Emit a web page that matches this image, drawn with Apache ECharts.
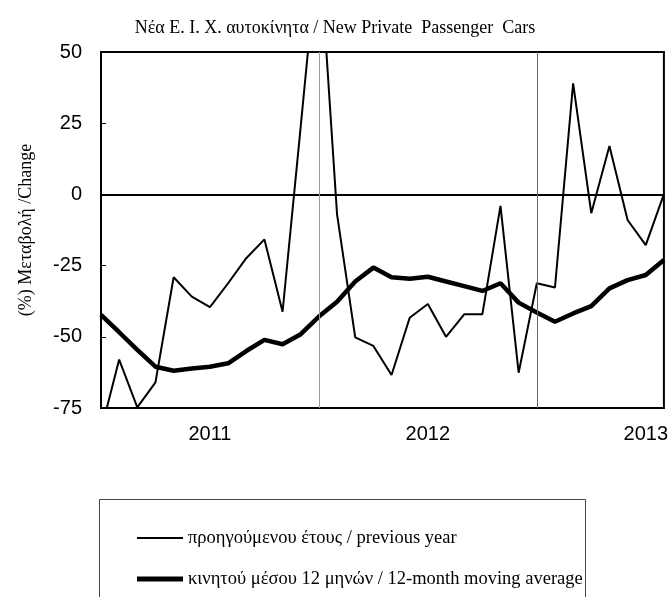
<!DOCTYPE html>
<html>
<head>
<meta charset="utf-8">
<script src="https://cdn.jsdelivr.net/npm/echarts@6/dist/echarts.min.js"></script>
<style>html,body{margin:0;padding:0;background:#fff}#c{width:671px;height:597px}</style>
</head>
<body>
<div id="c"></div>
<script>
// Months Jul 2010 .. Feb 2013
const months = ['2010-07','2010-08','2010-09','2010-10','2010-11','2010-12',
  '2011-01','2011-02','2011-03','2011-04','2011-05','2011-06','2011-07','2011-08','2011-09','2011-10','2011-11','2011-12',
  '2012-01','2012-02','2012-03','2012-04','2012-05','2012-06','2012-07','2012-08','2012-09','2012-10','2012-11','2012-12',
  '2013-01','2013-02'];
// % change vs previous year
const yoyChange = [-83,-58,-74.8,-66,-29.1,-35.9,-39.6,-31.2,-22.4,-15.8,-41.2,24,90,-7,-50.2,-53.2,
  -63.4,-43.3,-38.5,-50,-42.1,-42.1,-4,-62.6,-31.2,-32.7,39,-6.6,17,-9,-17.8,0.1];
// 12-month moving average
const movingAvg = [-42.3,-48.4,-54.6,-60.5,-61.9,-61.1,-60.5,-59.3,-55,-51.1,-52.6,-49.1,-42.9,-37.7,-30.6,-25.7,
  -29.1,-29.6,-28.9,-30.6,-32.2,-33.9,-31.2,-38,-41.5,-44.7,-41.8,-39.2,-33,-30.1,-28.3,-23];
const yTicks = [-75,-50,-25,0,25,50];
const separators = ['2011-07','2012-07'];
const seriesNames = ['προηγούμενου έτους / previous year','κινητού μέσου 12 μηνών / 12-month moving average'];

const legendText = {fontFamily: 'Liberation Serif', fontSize: 18.5, color: '#000', lineHeight: 20};
const chart = echarts.init(document.getElementById('c'));
chart.setOption({
  animation: false,
  title: {
    text: 'Νέα Ε. Ι. Χ. αυτοκίνητα / New Private  Passenger  Cars',
    left: 330, top: 14, textAlign: 'center',
    textStyle: {fontFamily: 'Liberation Serif', fontSize: 18, fontWeight: 'normal', color: '#000'}
  },
  graphic: [{
    type: 'rect', left: 97, top: 497, silent: true,
    shape: {width: 486, height: 200},
    style: {fill: 'none', stroke: '#444', lineWidth: 1}
  }],
  legend: [
    {
      left: 137, top: 528, padding: 0, icon: 'rect',
      itemWidth: 46, itemHeight: 2, textStyle: legendText,
      data: [seriesNames[0]]
    },
    {
      left: 137, top: 569, padding: 0, icon: 'rect',
      itemWidth: 46, itemHeight: 5, textStyle: legendText,
      data: [seriesNames[1]]
    }
  ],
  grid: {left: 101, right: 7, top: 52, bottom: 189, show: true, borderColor: '#000', borderWidth: 2, containLabel: false},
  xAxis: {
    type: 'category', data: months, boundaryGap: false,
    axisLine: {show: true, lineStyle: {color: '#000', width: 2}},
    axisTick: {show: false},
    axisLabel: {
      interval: (i, v) => v.endsWith('-01'),
      formatter: v => v.slice(0, 4),
      fontFamily: 'Liberation Sans', fontSize: 20, color: '#000', margin: 16
    },
    splitLine: {show: false}
  },
  yAxis: {
    type: 'value', min: yTicks[0], max: yTicks[yTicks.length - 1], interval: 25,
    name: '(%) Μεταβολή /Change', nameLocation: 'middle', nameGap: 66, nameRotate: 90,
    nameMoveOverlap: false,
    nameTextStyle: {fontFamily: 'Liberation Serif', fontSize: 18, color: '#000'},
    axisLine: {show: true, lineStyle: {color: '#000', width: 2}},
    axisTick: {show: true, inside: true, length: 5, lineStyle: {color: '#000'}},
    axisLabel: {fontFamily: 'Liberation Sans', fontSize: 20, color: '#000', margin: 19},
    splitLine: {show: false}
  },
  series: [
    {
      name: seriesNames[0], type: 'line', data: yoyChange, symbol: 'none',
      lineStyle: {color: '#000', width: 2}, itemStyle: {color: '#000'}, z: 3,
      markLine: {
        silent: true, symbol: 'none', label: {show: false},
        data: [
          {yAxis: 0, lineStyle: {color: '#000', width: 1, type: 'solid'}},
          {xAxis: separators[0], lineStyle: {color: '#999', width: 1, type: 'solid'}},
          {xAxis: separators[1], lineStyle: {color: '#666', width: 1, type: 'solid'}}
        ]
      }
    },
    {
      name: seriesNames[1], type: 'line', data: movingAvg, symbol: 'none',
      lineStyle: {color: '#000', width: 4.5}, itemStyle: {color: '#000'}, z: 4
    }
  ]
});
</script>
</body>
</html>
